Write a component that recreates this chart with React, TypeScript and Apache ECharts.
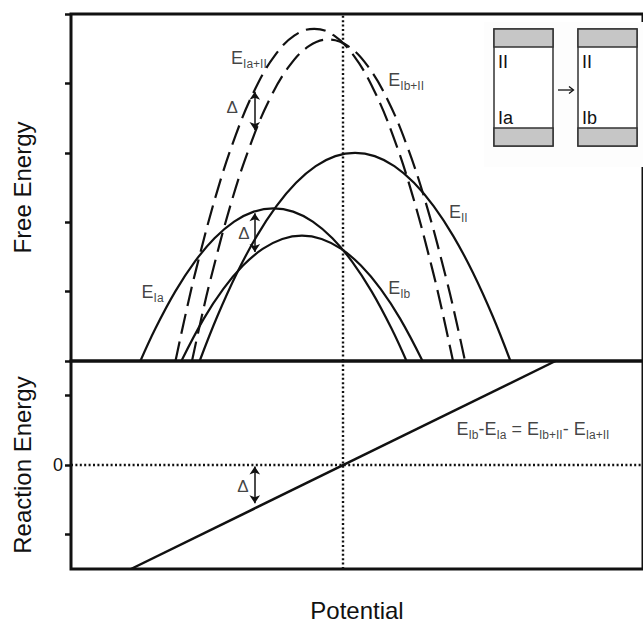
import React, { useEffect, useRef } from "react";
import * as echarts from "echarts";

// Potential axis: arbitrary units, 0 where the two reaction states are degenerate
const potentialMin = -2.77;
const potentialMax = 3.05;

// Free energy panel (arbitrary units)
const freeEnergyMin = 0;
const freeEnergyMax = 5;
const freeEnergyTicks = [0, 1, 2, 3, 4, 5];

// Reaction energy panel
const reactionMin = -1.5;
const reactionMax = 1.5;
const reactionTicks = [-1, 0, 1];
const reactionTickLabels = [0];

// Free energy curves [potential, energy]
const energyIa = [
  [-2.064, 0], [-1.91, 0.472], [-1.71, 1.0], [-1.51, 1.432], [-1.31, 1.768], [-1.11, 2.008],
  [-0.91, 2.152], [-0.71, 2.2], [-0.51, 2.152], [-0.31, 2.008], [-0.11, 1.768], [0.09, 1.432],
  [0.29, 1.0], [0.49, 0.472], [0.644, 0],
];
const energyIb = [
  [-1.647, 0], [-1.42, 0.607], [-1.22, 1.039], [-1.02, 1.375], [-0.82, 1.615], [-0.62, 1.759],
  [-0.42, 1.807], [-0.22, 1.759], [-0.02, 1.615], [0.18, 1.375], [0.38, 1.039], [0.58, 0.607],
  [0.807, 0],
];
const energyII = [
  [-1.461, 0], [-1.28, 0.648], [-1.08, 1.272], [-0.88, 1.8], [-0.68, 2.232], [-0.48, 2.568],
  [-0.28, 2.808], [-0.08, 2.952], [0.12, 3.0], [0.32, 2.952], [0.52, 2.808], [0.72, 2.568],
  [0.92, 2.232], [1.12, 1.8], [1.32, 1.272], [1.52, 0.648], [1.701, 0],
];
const energyIaII = [
  [-1.707, 0], [-1.595, 0.731], [-1.495, 1.331], [-1.295, 2.387], [-1.095, 3.251], [-0.895, 3.923],
  [-0.695, 4.403], [-0.495, 4.691], [-0.295, 4.787], [-0.095, 4.691], [0.105, 4.403], [0.305, 3.923],
  [0.505, 3.251], [0.705, 2.387], [0.905, 1.331], [1.005, 0.731], [1.117, 0],
];
const energyIbII = [
  [-1.539, 0], [-1.45, 0.576], [-1.35, 1.176], [-1.15, 2.232], [-0.95, 3.096], [-0.75, 3.768],
  [-0.55, 4.248], [-0.35, 4.536], [-0.15, 4.632], [0.05, 4.536], [0.25, 4.248], [0.45, 3.768],
  [0.65, 3.096], [0.85, 2.232], [1.05, 1.176], [1.15, 0.576], [1.239, 0],
];

// Reaction energy E_Ib - E_Ia versus potential
const reactionEnergy = [[-2.16, -1.5], [2.16, 1.5]];

// Curve names placed next to each curve: [subscript, potential, energy]
const curveNames: [string, number, number][] = [
  ["Ia+II", -0.96, 4.37],
  ["Ib+II", 0.64, 4.05],
  ["II", 1.17, 2.15],
  ["Ib", 0.57, 1.05],
  ["Ia", -1.94, 0.99],
];

// Δ markers: label position and double arrow ends
const deltaLabelsTop: [number, number][] = [[-1.13, 3.65], [-1.01, 1.83]];
const deltaArrowsTop: [number, number, number][] = [[-0.9, 3.88, 3.33], [-0.9, 2.13, 1.57]];
const deltaLabelsBottom: [number, number][] = [[-1.02, -0.31]];
const deltaArrowsBottom: [number, number, number][] = [[-0.9, -0.02, -0.55]];
const formulaPosition: [number, number] = [1.93, 0.52];

const FONT = "'Liberation Sans', Arial, Helvetica, sans-serif";
const INK = "#111";

const rich = {
  e: { fontSize: 18, lineHeight: 24, fontFamily: FONT, color: INK },
  s: { fontSize: 12, lineHeight: 12, verticalAlign: "bottom", fontFamily: FONT, color: INK },
  d: { fontSize: 17, lineHeight: 20, fontFamily: FONT, color: INK },
};

function arrowLines(arrows: [number, number, number][]) {
  return arrows.map(([x, y1, y2]) => [
    { coord: [x, y1], symbol: "arrow" },
    { coord: [x, y2], symbol: "arrow" },
  ]);
}

export default function App() {
  const ref = useRef<HTMLDivElement>(null);

  useEffect(() => {
    if (!ref.current) return;
    const chart = echarts.init(ref.current, null, { renderer: "svg" });

    const curve = (name: string, data: number[][], dashed: boolean, extra: any = {}) => ({
      name,
      type: "line",
      xAxisIndex: 0,
      yAxisIndex: 0,
      data,
      smooth: 0.4,
      symbol: "none",
      silent: true,
      lineStyle: { color: INK, width: 2.2, type: dashed ? [20, 8] : "solid" },
      ...extra,
    });

    const gridBorder = { show: true, borderColor: INK, borderWidth: 3, backgroundColor: "transparent" };
    const hiddenLine = { show: false, onZero: false };
    const dotted = { color: INK, width: 2.4, type: [2, 2.4] };

    chart.setOption({
      animation: false,
      backgroundColor: "#fff",
      textStyle: { fontFamily: FONT },
      grid: [
        { left: 71, top: 14, right: -10, height: 347, ...gridBorder },
        { left: 71, top: 361, right: -10, height: 210, ...gridBorder },
      ],
      xAxis: [
        {
          type: "value", gridIndex: 0, min: potentialMin, max: potentialMax,
          axisLine: hiddenLine, axisTick: { show: false }, axisLabel: { show: false },
          splitLine: { show: false },
        },
        {
          type: "value", gridIndex: 1, min: potentialMin, max: potentialMax,
          name: "Potential", nameLocation: "middle", nameGap: 29,
          nameTextStyle: { fontSize: 24, color: INK, fontFamily: FONT },
          axisLine: hiddenLine, axisTick: { show: false }, axisLabel: { show: false },
          splitLine: { show: false },
        },
      ],
      yAxis: [
        {
          type: "value", gridIndex: 0, min: freeEnergyMin, max: freeEnergyMax, interval: 1,
          name: "Free Energy", nameLocation: "middle", nameGap: 37,
          nameTextStyle: { fontSize: 24, color: INK, fontFamily: FONT },
          axisLine: hiddenLine,
          axisTick: { show: true, inside: false, length: 6, customValues: freeEnergyTicks, lineStyle: { color: INK, width: 2.5 } },
          axisLabel: { show: false },
          splitLine: { show: false },
        },
        {
          type: "value", gridIndex: 1, min: reactionMin, max: reactionMax,
          name: "Reaction Energy", nameLocation: "middle", nameGap: 37,
          nameTextStyle: { fontSize: 24, color: INK, fontFamily: FONT },
          axisLine: hiddenLine,
          axisTick: { show: true, inside: false, length: 6, customValues: reactionTicks, lineStyle: { color: INK, width: 2.5 } },
          axisLabel: { show: true, customValues: reactionTickLabels, margin: 8, fontSize: 18, color: INK, fontFamily: FONT },
          splitLine: { show: false },
        },
      ],
      series: [
        curve("E_Ia", energyIa, false),
        curve("E_Ib", energyIb, false),
        curve("E_II", energyII, false, {
          markLine: {
            silent: true, symbol: "none", label: { show: false },
            lineStyle: dotted,
            data: [{ xAxis: 0 }],
          },
        }),
        curve("E_Ia+II", energyIaII, true),
        curve("E_Ib+II", energyIbII, true),
        {
          name: "deltaTop",
          type: "line", xAxisIndex: 0, yAxisIndex: 0, data: [], silent: true,
          markLine: {
            silent: true, symbolSize: 8, label: { show: false },
            lineStyle: { color: INK, width: 1.5, type: "solid" },
            data: arrowLines(deltaArrowsTop),
          },
        },
        {
          name: "labelsTop",
          type: "scatter", xAxisIndex: 0, yAxisIndex: 0, symbolSize: 0, silent: true,
          label: { show: true, position: "inside", rich },
          data: [
            ...curveNames.map(([sub, x, y]) => ({
              value: [x, y],
              label: { formatter: `{e|E}{s|${sub}}` },
            })),
            ...deltaLabelsTop.map(([x, y]) => ({ value: [x, y], label: { formatter: "{d|Δ}" } })),
          ],
        },
        {
          name: "reaction",
          type: "line", xAxisIndex: 1, yAxisIndex: 1, data: reactionEnergy,
          symbol: "none", silent: true,
          lineStyle: { color: INK, width: 2.5 },
          markLine: {
            silent: true, symbol: "none", label: { show: false },
            lineStyle: dotted,
            data: [{ xAxis: 0 }, { yAxis: 0 }],
          },
        },
        {
          name: "deltaBottom",
          type: "line", xAxisIndex: 1, yAxisIndex: 1, data: [], silent: true,
          markLine: {
            silent: true, symbolSize: 8, label: { show: false },
            lineStyle: { color: INK, width: 1.5, type: "solid" },
            data: arrowLines(deltaArrowsBottom),
          },
        },
        {
          name: "labelsBottom",
          type: "scatter", xAxisIndex: 1, yAxisIndex: 1, symbolSize: 0, silent: true,
          label: { show: true, position: "inside", rich },
          data: [
            ...deltaLabelsBottom.map(([x, y]) => ({ value: [x, y], label: { formatter: "{d|Δ}" } })),
            {
              value: formulaPosition,
              label: { formatter: "{e|E}{s|Ib}{e|-E}{s|Ia}{e| = E}{s|Ib+II}{e|- E}{s|Ia+II}" },
            },
          ],
        },
      ],
      graphic: [
        {
          type: "group",
          left: 484,
          top: 22,
          children: [
            { type: "rect", shape: { x: 0, y: 0, width: 160, height: 145 }, style: { fill: "#fdfdfd" } },
            // state before
            { type: "rect", shape: { x: 10, y: 7, width: 59, height: 117 }, style: { fill: "#fff", stroke: "#333", lineWidth: 1.5 } },
            { type: "rect", shape: { x: 10, y: 7, width: 59, height: 18 }, style: { fill: "#c6c6c6", stroke: "#333", lineWidth: 1.5 } },
            { type: "rect", shape: { x: 10, y: 106, width: 59, height: 18 }, style: { fill: "#c6c6c6", stroke: "#333", lineWidth: 1.5 } },
            { type: "text", x: 14, y: 49, style: { text: "II", font: `18px ${FONT}`, fill: INK, textVerticalAlign: "bottom" } },
            { type: "text", x: 14, y: 105, style: { text: "Ia", font: `18px ${FONT}`, fill: INK, textVerticalAlign: "bottom" } },
            // reaction arrow
            { type: "line", shape: { x1: 74, y1: 68, x2: 89, y2: 68 }, style: { stroke: INK, lineWidth: 1.3 } },
            { type: "polyline", shape: { points: [[85, 64.5], [89.5, 68], [85, 71.5]] }, style: { stroke: INK, lineWidth: 1.3, fill: "none" } },
            // state after
            { type: "rect", shape: { x: 94, y: 7, width: 59, height: 117 }, style: { fill: "#fff", stroke: "#333", lineWidth: 1.5 } },
            { type: "rect", shape: { x: 94, y: 7, width: 59, height: 18 }, style: { fill: "#c6c6c6", stroke: "#333", lineWidth: 1.5 } },
            { type: "rect", shape: { x: 94, y: 106, width: 59, height: 18 }, style: { fill: "#c6c6c6", stroke: "#333", lineWidth: 1.5 } },
            { type: "text", x: 98, y: 49, style: { text: "II", font: `18px ${FONT}`, fill: INK, textVerticalAlign: "bottom" } },
            { type: "text", x: 98, y: 105, style: { text: "Ib", font: `18px ${FONT}`, fill: INK, textVerticalAlign: "bottom" } },
          ],
        },
      ],
    });

    return () => chart.dispose();
  }, []);

  return (
    <div
      ref={ref}
      style={{ position: "fixed", left: 0, top: 0, width: 643, height: 623, background: "#fff" }}
    />
  );
}
